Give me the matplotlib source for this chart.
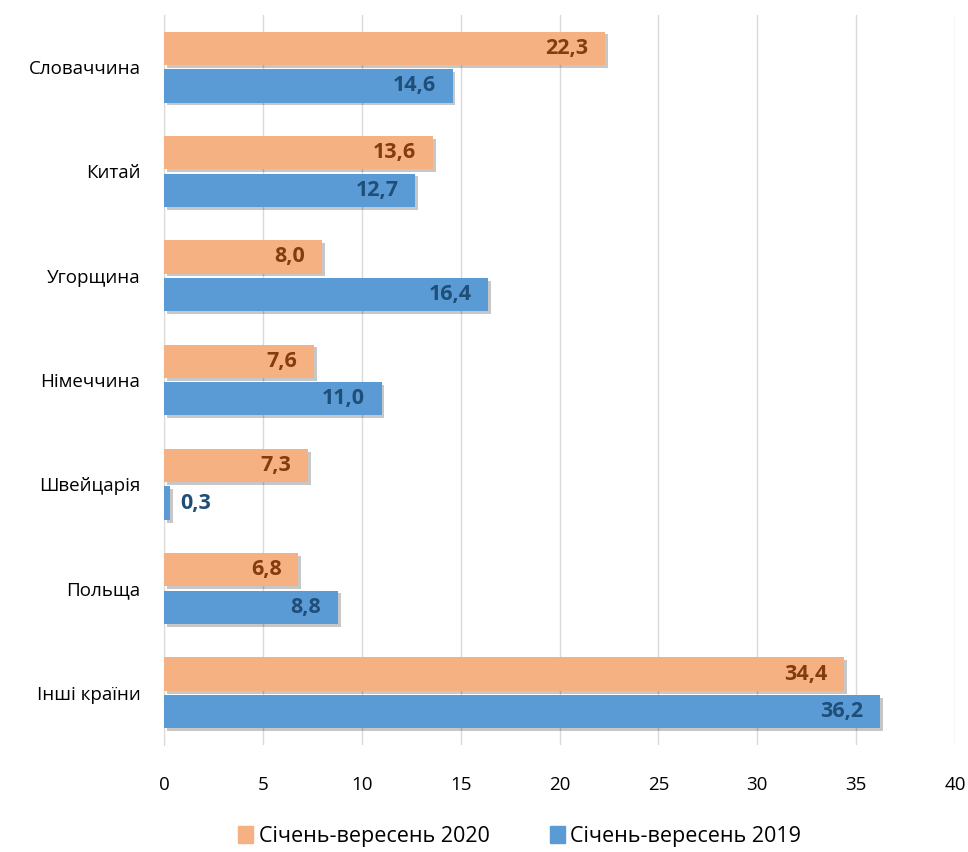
import matplotlib.pyplot as plt
import matplotlib.patheffects as pe
from matplotlib.patches import Patch
import numpy as np

plt.rcParams['font.family'] = ['Open Sans', 'DejaVu Sans']

kraini = ["Словаччина", "Китай", "Угорщина", "Німеччина", "Швейцарія", "Польща", "Інші країни"]
v2020 = [22.3, 13.6, 8.0, 7.6, 7.3, 6.8, 34.4]
v2019 = [14.6, 12.7, 16.4, 11.0, 0.3, 8.8, 36.2]
nazvy = ["Січень-вересень 2020", "Січень-вересень 2019"]

kolir_or = "#F6B183"
kolir_bl = "#5B9BD5"
tekst_or = "#843C0C"
tekst_bl = "#1F4E79"

fig = plt.figure(figsize=(9.68, 8.52), dpi=100)
ax = fig.add_axes([164/968, 1-745/852, (955-164)/968, (745-15)/852])

y = np.arange(len(kraini))
h = 0.32
tin = [pe.SimplePatchShadow(offset=(2, -2), shadow_rgbFace="black", alpha=0.22), pe.Normal()]

b1 = ax.barh(y - h/2 - 0.02, v2020, height=h, color=kolir_or, zorder=3)
b2 = ax.barh(y + h/2 + 0.02, v2019, height=h, color=kolir_bl, zorder=3)
for b in list(b1) + list(b2):
    b.set_path_effects(tin)

def pidpysy(bars, vals, kol):
    for b, v in zip(bars, vals):
        yc = b.get_y() + b.get_height()/2
        t = f"{v:.1f}".replace(".", ",")
        if v > 3:
            ax.text(v - 0.85, yc, t, ha="right", va="center", fontsize=15.5,
                    fontweight="bold", color=kol, zorder=4)
        else:
            ax.text(v + 0.5, yc, t, ha="left", va="center", fontsize=15.5,
                    fontweight="bold", color=kol, zorder=4)

pidpysy(b1, v2020, tekst_or)
pidpysy(b2, v2019, tekst_bl)

ax.set_xlim(0, 40)
ax.set_ylim(len(kraini) - 0.5, -0.5)
ax.set_xticks(range(0, 41, 5))
ax.set_yticks(y)
ax.set_yticklabels(kraini)
ax.tick_params(axis="both", length=0, labelsize=13.5, colors="black")
ax.tick_params(axis="x", pad=22)
ax.tick_params(axis="y", pad=17)
ax.grid(axis="x", color="#D9D9D9", linewidth=1, zorder=0)
for s in ["top", "right", "bottom"]:
    ax.spines[s].set_visible(False)
ax.spines["left"].set_color("#D9D9D9")

ruchky = [Patch(color=kolir_or), Patch(color=kolir_bl)]
ax.legend(ruchky, nazvy, loc="upper center", bbox_to_anchor=(0.45, -0.099), ncol=2, frameon=False,
          fontsize=15.5, handlelength=0.7, handleheight=0.8, handletextpad=0.25, columnspacing=2.8,
          borderaxespad=0)

plt.savefig("out.png", dpi=100)
